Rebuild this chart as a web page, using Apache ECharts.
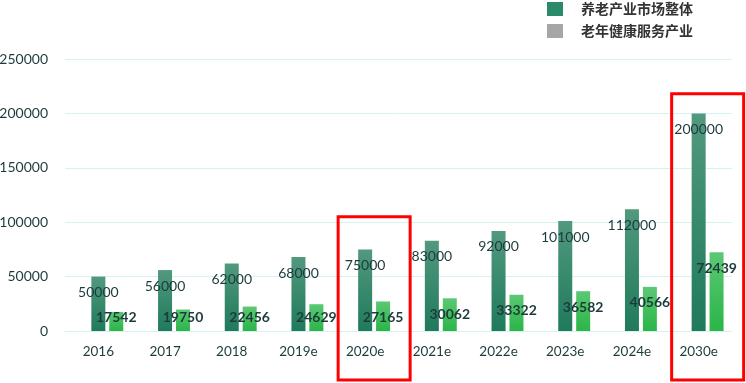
<!DOCTYPE html>
<html><head><meta charset="utf-8">
<script src="https://cdn.jsdelivr.net/npm/echarts@6/dist/echarts.min.js"></script>
<style>html,body{margin:0;padding:0;background:#fff}#c{width:746px;height:383px}</style>
</head><body><div id="c"></div>
<script>
const categories = ['2016','2017','2018','2019e','2020e','2021e','2022e','2023e','2024e','2030e'];
const marketTotal = [50000,56000,62000,68000,75000,83000,92000,101000,112000,200000];
const healthService = [17542,19750,22456,24629,27165,30062,33322,36582,40566,72439];
const yTicks = {min:0, max:250000, interval:50000};
const seriesNames = ['养老产业市场整体','老年健康服务产业'];
const highlighted = ['2020e','2030e'];

const chart = echarts.init(document.getElementById('c'));
const txt = '#1d3b3b';
const grad = (a,b)=>new echarts.graphic.LinearGradient(0,0,0,1,[{offset:0,color:a},{offset:1,color:b}]);
const baseLabel = {show:true,position:'insideTop',distance:9,fontFamily:'Lato',fontSize:14,color:txt};
chart.setOption({
  animation:false,
  grid:{left:65,right:14,top:59,bottom:52,containLabel:false,outerBoundsMode:'none'},
  legend:{
    orient:'vertical', left:547, top:2, padding:0, itemWidth:16, itemHeight:14, itemGap:8,
    icon:'rect',
    data:[{name:seriesNames[0],itemStyle:{color:'#2b8a6a'}},{name:seriesNames[1],itemStyle:{color:'#a6a6a6'}}],
    textStyle:{fontFamily:'Noto Sans CJK SC',fontSize:14,color:'#333',fontWeight:'bold',padding:[0,0,0,13]}
  },
  xAxis:{type:'category',data:categories,
    axisLine:{lineStyle:{color:'#d4f2f2'}},axisTick:{show:false},
    axisLabel:{fontFamily:'Lato',fontSize:13.5,color:txt,margin:14}},
  yAxis:{type:'value',min:yTicks.min,max:yTicks.max,interval:yTicks.interval,
    axisLine:{show:false},axisTick:{show:false},
    splitLine:{lineStyle:{color:'#d4f2f2'}},
    axisLabel:{fontFamily:'Lato',fontSize:14,color:txt,margin:17,formatter:v=>String(v)}},
  series:[
    {name:'_pad',type:'bar',data:categories.map(()=>null),barWidth:14,barGap:'28%',silent:true},
    {name:seriesNames[0],type:'bar',data:marketTotal,barWidth:14,barGap:'28%',
      itemStyle:{color:grad('#52997e','#1f7a5b')},
      label:baseLabel},
    {name:seriesNames[1],type:'bar',data:healthService,barWidth:14,barGap:'28%',
      itemStyle:{color:grad('#5cc874','#2bb548')},
      label:Object.assign({},baseLabel,{fontWeight:'bold'})}
  ]
});
// keep light-series labels inside plot area (short bars get label pinned near the base)
const y0 = chart.convertToPixel({yAxisIndex:0},0);
chart.setOption({series:[{},{},{data:healthService.map(v=>{
  const h = y0 - chart.convertToPixel({yAxisIndex:0},v);
  return h < 30 ? {value:v,label:{position:'insideBottom',distance:7}} : v;
})}]});
// red highlight boxes (annotations)
const tops = {'2020e':105000,'2030e':218000};
const g = highlighted.map(c=>{
  const cx = chart.convertToPixel({xAxisIndex:0},c);
  const ty = chart.convertToPixel({yAxisIndex:0},tops[c]);
  return {type:'rect',shape:{x:cx-27,y:ty,width:72,height:380-ty},
    style:{fill:'none',stroke:'#ff0000',lineWidth:3},z:100};
});
chart.setOption({graphic:g});
</script></body></html>
